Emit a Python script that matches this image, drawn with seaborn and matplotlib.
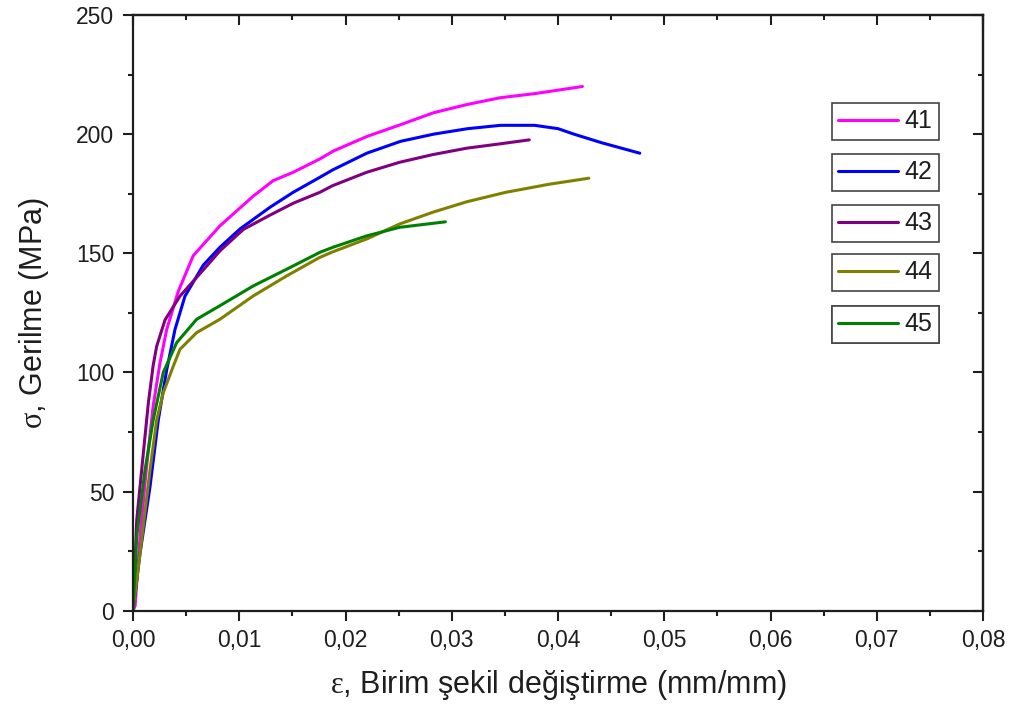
import numpy as np
import pandas as pd
import matplotlib
matplotlib.use("Agg")
import matplotlib.pyplot as plt
from matplotlib.ticker import MultipleLocator, FuncFormatter
from matplotlib.lines import Line2D
import seaborn as sns

# Stress-strain readings per specimen
strain_41 = [0, 0.0002, 0.00066, 0.00129, 0.0019, 0.00254, 0.00317, 0.00426, 0.00567,
             0.00818, 0.01132, 0.0132, 0.01508, 0.01759, 0.0189, 0.022, 0.0252, 0.0283,
             0.0315, 0.0346, 0.0378, 0.0423]
stress_41 = [0, 2, 31, 61, 86, 104, 118, 134, 149, 161.5, 174, 180.5, 184, 189.6, 193,
             199, 204, 209, 212.5, 215.3, 217, 220]

strain_42 = [0, 0.00066, 0.0016, 0.00238, 0.00317, 0.00395, 0.00489, 0.00661, 0.00818,
             0.01007, 0.01289, 0.01508, 0.01759, 0.0188, 0.022, 0.0252, 0.0283, 0.0315,
             0.0346, 0.0378, 0.040, 0.0415, 0.0441, 0.0477]
stress_42 = [0, 24, 52, 80, 101, 118, 132, 145, 152.5, 160.2, 169.3, 175.6, 181.9, 185,
             192, 197, 200, 202.3, 203.7, 203.7, 202.3, 200, 196.4, 192]

strain_43 = [0, 0.00035, 0.00097, 0.00144, 0.0019, 0.00223, 0.00301, 0.00442, 0.00661,
             0.00818, 0.01038, 0.01289, 0.01508, 0.01759, 0.0188, 0.022, 0.0251, 0.0282,
             0.0314, 0.0345, 0.0373]
stress_43 = [0, 38, 66, 87, 103, 111, 122, 132, 143, 151, 160, 166, 171, 175.6, 178.4,
             184, 188.2, 191.4, 194.1, 195.9, 197.6]

strain_44 = [0, 0.00066, 0.0016, 0.00223, 0.00285, 0.00379, 0.00442, 0.00599, 0.00818,
             0.01132, 0.01446, 0.01759, 0.0188, 0.022, 0.0251, 0.0282, 0.0314, 0.0351,
             0.0392, 0.0429]
stress_44 = [0, 24, 59, 80, 91.5, 102.6, 109.7, 116.7, 122.3, 132.1, 140.5, 148.3, 150.6,
             156, 162.3, 167.2, 171.6, 175.6, 179, 181.5]

strain_45 = [0, 0.00035, 0.00113, 0.0019, 0.00285, 0.00411, 0.00599, 0.00818, 0.01132,
             0.01446, 0.01759, 0.0188, 0.022, 0.0251, 0.0294]
stress_45 = [0, 31, 59, 80, 100, 112.5, 122.3, 128, 136.3, 143.3, 150.4, 152.5, 157.3,
             160.9, 163.2]

specimens = ["41", "42", "43", "44", "45"]
colors = ["#FF00FF", "#0000FF", "#800080", "#808000", "#008000"]

frames = []
for name, xs, ys in zip(specimens,
                        [strain_41, strain_42, strain_43, strain_44, strain_45],
                        [stress_41, stress_42, stress_43, stress_44, stress_45]):
    frames.append(pd.DataFrame({"strain": xs, "stress": ys, "specimen": name}))
df = pd.concat(frames, ignore_index=True)

sns.set_theme(style="white")
plt.rcParams["font.family"] = ["Liberation Sans", "DejaVu Sans"]
plt.rcParams["mathtext.fontset"] = "custom"
plt.rcParams["mathtext.rm"] = "Liberation Serif"

INK = "#1e1e1e"

fig = plt.figure(figsize=(10.16, 7.16), dpi=100)
ax = fig.add_axes([133 / 1016, (716 - 610.7) / 716, 850 / 1016, 595.7 / 716])

sns.lineplot(data=df, x="strain", y="stress", hue="specimen", hue_order=specimens,
             palette=colors, sort=False, estimator=None, units="specimen",
             linewidth=2.2, legend=False, ax=ax)

ax.set_xlim(0, 0.08)
ax.set_ylim(0, 250)
ax.xaxis.set_major_locator(MultipleLocator(0.01))
ax.xaxis.set_minor_locator(MultipleLocator(0.005))
ax.yaxis.set_major_locator(MultipleLocator(50))
ax.yaxis.set_minor_locator(MultipleLocator(25))
ax.xaxis.set_major_formatter(FuncFormatter(lambda v, p: f"{v:.2f}".replace(".", ",")))
ax.yaxis.set_major_formatter(FuncFormatter(lambda v, p: f"{v:.0f}"))

for s in ax.spines.values():
    s.set_color(INK)
    s.set_linewidth(1.6)

ax.tick_params(which="both", direction="out", bottom=True, left=True, top=False,
               right=False, color=INK, width=1.5, labelsize=16.5, colors=INK)
ax.tick_params(which="major", length=7.5)
ax.tick_params(which="minor", length=3.5)
ax.tick_params(axis="x", pad=6)
ax.tick_params(axis="y", pad=6)

# mirrored inward ticks on the top and right edges
top = ax.secondary_xaxis("top")
top.xaxis.set_major_locator(MultipleLocator(0.01))
top.xaxis.set_minor_locator(MultipleLocator(0.005))
top.tick_params(which="both", direction="in", labeltop=False, color=INK, width=1.5)
top.tick_params(which="major", length=7.5)
top.tick_params(which="minor", length=3.5)
right = ax.secondary_yaxis("right")
right.yaxis.set_major_locator(MultipleLocator(50))
right.yaxis.set_minor_locator(MultipleLocator(25))
right.tick_params(which="both", direction="in", labelright=False, color=INK, width=1.5)
right.tick_params(which="major", length=7.5)
right.tick_params(which="minor", length=3.5)
for sec in (top, right):
    for s in sec.spines.values():
        s.set_linewidth(1.6)
        s.set_color(INK)

ax.set_xlabel(r"$\mathrm{ε}$, Birim şekil değiştirme (mm/mm)", fontsize=22,
              color=INK, labelpad=11)
ax.set_ylabel(r"$\mathrm{σ}$, Gerilme (MPa)", fontsize=22, color=INK, labelpad=18)

# one framed legend box per specimen
box_tops = [103, 154, 205, 254, 306]
for name, col, top_px in zip(specimens, colors, box_tops):
    h = Line2D([], [], color=col, linewidth=2.2)
    leg = ax.legend([h], [name], loc="upper left",
                    bbox_to_anchor=(832 / 1016, 1 - top_px / 716),
                    bbox_transform=fig.transFigure, frameon=True, fancybox=False,
                    fontsize=18, handlelength=2.4, handletextpad=0.25,
                    borderpad=0.25, borderaxespad=0)
    fr = leg.get_frame()
    fr.set_edgecolor("#444444")
    fr.set_linewidth(1.2)
    fr.set_alpha(1)
    for t in leg.get_texts():
        t.set_color(INK)
    ax.add_artist(leg)

fig.savefig("out.png", dpi=100, facecolor="white")
